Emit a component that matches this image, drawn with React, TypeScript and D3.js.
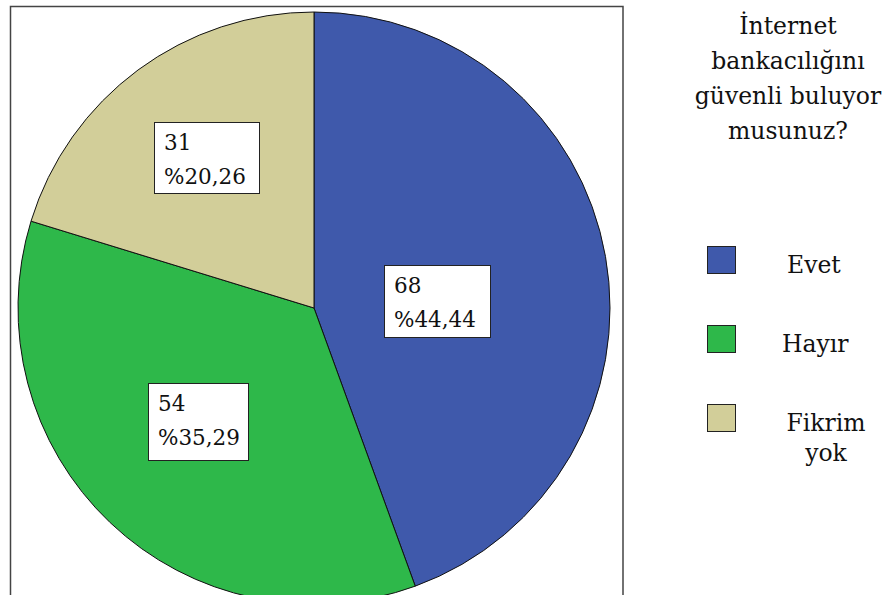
import React from "react";
import * as d3 from "d3";

const categories = ["Evet", "Hayır", "Fikrim yok"];
const counts = [68, 54, 31];
const colors = ["#3f59ab", "#2eb84a", "#d2ce99"];
const titleLines = ["İnternet", "bankacılığını", "güvenli buluyor", "musunuz?"];
const legendLines = [["Evet"], ["Hayır"], ["Fikrim", "yok"]];

const W = 888;
const H = 595;
const cx = 314;
const cy = 308;
const R = 296;

const FONT = "'DejaVu Serif', serif";
const LABEL_SIZE = 21.5;
const SIDE_SIZE = 23.5;

// label box positions (layout)
const labelBoxes = [
  { x: 384, y: 265, w: 106, h: 72 },
  { x: 148, y: 383, w: 100, h: 77 },
  { x: 154, y: 122, w: 105, h: 71 },
];
const legendRows = [
  { sy: 246, tx: 787, anchor: "start" },
  { sy: 325, tx: 782, anchor: "start" },
  { sy: 404, tx: 826, anchor: "middle" },
];

export default function App() {
  const total = d3.sum(counts);
  const pie = d3
    .pie<number>()
    .sort(null)
    .value((d) => d)
    .startAngle(0)
    .endAngle(2 * Math.PI);
  const arcs = pie(counts);
  const arc = d3.arc<d3.PieArcDatum<number>>().innerRadius(0).outerRadius(R);
  const fmt = (v: number) => "%" + ((v / total) * 100).toFixed(2).replace(".", ",");

  return (
    <svg
      width={W}
      height={H}
      style={{ position: "absolute", left: 0, top: 0, background: "#fff", fontFamily: FONT }}
    >
      <rect x={0} y={0} width={W} height={H} fill="#fff" />
      <path
        d={`M10.5,${H + 2} V6.5 H623 V${H + 2}`}
        fill="none"
        stroke="#444"
        strokeWidth={1.5}
      />
      <g transform={`translate(${cx},${cy})`}>
        {arcs.map((a, i) => (
          <path key={i} d={arc(a) || ""} fill={colors[i]} stroke="#111" strokeWidth={1} />
        ))}
      </g>
      {labelBoxes.map((b, i) => (
        <g key={i}>
          <rect x={b.x + 0.5} y={b.y + 0.5} width={b.w} height={b.h} fill="#fff" stroke="#222" strokeWidth={1} />
          <text x={b.x + 10} y={b.y + 28} fontSize={LABEL_SIZE} fill="#111">
            {counts[i]}
          </text>
          <text x={b.x + 10} y={b.y + 62} fontSize={LABEL_SIZE} fill="#111">
            {fmt(counts[i])}
          </text>
        </g>
      ))}
      {titleLines.map((t, i) => (
        <text key={i} x={788} y={34 + i * 35} fontSize={SIDE_SIZE} textAnchor="middle" fill="#111">
          {t}
        </text>
      ))}
      {categories.map((c, i) => {
        const r = legendRows[i];
        return (
          <g key={c}>
            <rect x={707.5} y={r.sy + 0.5} width={28} height={27} fill={colors[i]} stroke="#222" strokeWidth={1} />
            {legendLines[i].map((l, j) => (
              <text
                key={j}
                x={r.tx}
                y={r.sy + 27 + j * 30}
                fontSize={SIDE_SIZE}
                textAnchor={r.anchor as any}
                fill="#111"
              >
                {l}
              </text>
            ))}
          </g>
        );
      })}
    </svg>
  );
}
